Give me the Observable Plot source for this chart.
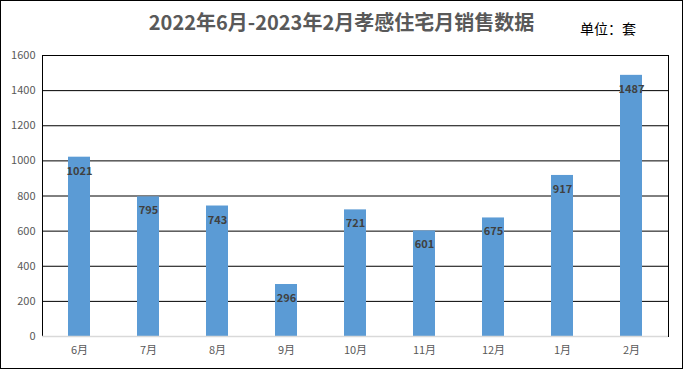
<!DOCTYPE html>
<html>
<head>
<meta charset="utf-8">
<script src="https://cdn.jsdelivr.net/npm/d3@7"></script>
<script src="https://cdn.jsdelivr.net/npm/@observablehq/plot@0.6"></script>
<style>
  html, body { margin: 0; padding: 0; background: #fff; }
  #wrap { position: relative; width: 683px; height: 369px; overflow: hidden; font-family: "Noto Sans CJK SC", "Noto Sans", sans-serif; }
  #border { position: absolute; left: 0; top: 0; width: 683px; height: 369px; box-sizing: border-box; border: 1px solid #000; pointer-events: none; }
  #title { position: absolute; left: 0; width: 683px; top: 8px; text-align: center; font-size: 20px; font-weight: bold; color: #595959; line-height: 28px; }
  #unit { position: absolute; left: 580px; top: 18px; font-size: 14px; color: #000; line-height: 20px; }
  svg { position: absolute; left: 0; top: 0; }
</style>
</head>
<body>
<div id="wrap">
  <div id="title">2022年6月-2023年2月孝感住宅月销售数据</div>
  <div id="unit">单位：套</div>
  <div id="border"></div>
</div>
<script>
const months = ["6月","7月","8月","9月","10月","11月","12月","1月","2月"];
const sales = [1021, 795, 743, 296, 721, 601, 675, 917, 1487];
const yTicks = [0, 200, 400, 600, 800, 1000, 1200, 1400, 1600];

const data = months.map((m, i) => ({month: m, value: sales[i]}));

const chart = Plot.plot({
  width: 683,
  height: 369,
  marginTop: 55,
  marginBottom: 33,
  marginLeft: 42,
  marginRight: 15,
  style: {fontFamily: '"Noto Sans CJK SC", "Noto Sans", sans-serif', fontSize: "11px", color: "#595959", background: "transparent"},
  x: {domain: months, paddingInner: 0.68, paddingOuter: 0.34, label: null, tickSize: 0, tickPadding: 10},
  y: {domain: [0, 1600], ticks: yTicks, tickFormat: d => String(d), label: null, tickSize: 0, tickPadding: 7},
  marks: [
    Plot.ruleY(yTicks.filter(d => d > 0), {stroke: "#000", strokeWidth: 1}),
    Plot.frame({stroke: "#000"}),
    Plot.barY(data, {x: "month", y: "value", fill: "#5B9BD5"}),
    Plot.ruleY([0], {stroke: "#d9d9d9", strokeWidth: 1.5}),
    Plot.text(data, {x: "month", y: "value", text: d => String(d.value), dy: 14, fill: "#404040", fontWeight: "bold", fontSize: 11})
  ]
});
document.getElementById("wrap").insertBefore(chart, document.getElementById("title"));
</script>
</body>
</html>
